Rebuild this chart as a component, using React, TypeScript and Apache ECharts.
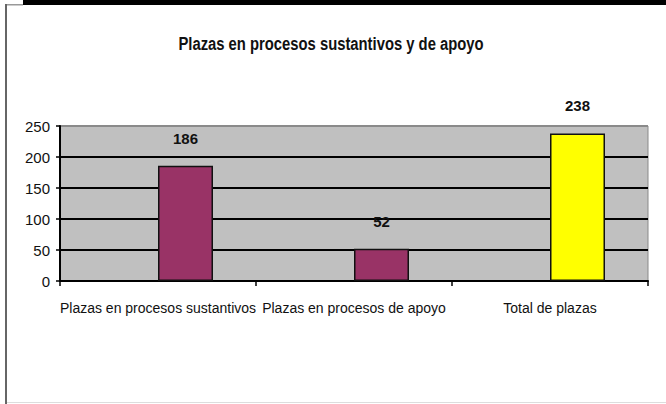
import React, { useEffect, useRef } from "react";
import * as echarts from "echarts";

const categories = [
  "Plazas en procesos sustantivos",
  "Plazas en procesos de apoyo",
  "Total de plazas",
];
const plazas = [186, 52, 238];
const emptySeries = [null, null, null];
const barColors = ["#993366", "#993366", "#FFFF00"];
const yTicks = [0, 50, 100, 150, 200, 250];
const titleText = "Plazas en procesos sustantivos y de apoyo";

const FONT = "'Liberation Sans', Arial, sans-serif";

export default function App() {
  const ref = useRef<HTMLDivElement>(null);
  useEffect(() => {
    const chart = echarts.init(ref.current!, null, { renderer: "svg" });
    chart.setOption({
      animation: false,
      backgroundColor: "#ffffff",
      grid: {
        left: 60,
        right: 18,
        top: 126,
        bottom: 123,
        show: true,
        backgroundColor: "#C0C0C0",
        borderColor: "#8a8a8a",
        borderWidth: 1,
      },
      xAxis: {
        type: "category",
        data: categories,
        axisLine: { lineStyle: { color: "#000", width: 2 } },
        axisTick: { show: true, length: 5, lineStyle: { color: "#000", width: 1.5 } },
        axisLabel: { fontFamily: FONT, fontSize: 14, color: "#111", margin: 20, interval: 0 },
      },
      yAxis: {
        type: "value",
        min: yTicks[0],
        max: yTicks[yTicks.length - 1],
        interval: 50,
        axisLine: { show: true, lineStyle: { color: "#000", width: 2 } },
        axisTick: { show: true, length: 4, lineStyle: { color: "#000", width: 1.5 } },
        axisLabel: { fontFamily: FONT, fontSize: 15, color: "#111", margin: 10 },
        splitLine: {
          show: true,
          lineStyle: { color: ["#000", "#000", "#000", "#000", "#000", "#8a8a8a"], width: 2 },
        },
      },
      series: [
        {
          type: "bar",
          data: emptySeries,
          barWidth: 55,
          barGap: "0%",
        },
        {
          type: "bar",
          barWidth: 55,
          barGap: "0%",
          data: plazas.map((v, i) => ({
            value: v,
            itemStyle: { color: barColors[i], borderColor: "#111", borderWidth: 1.5 },
          })),
          label: {
            show: true,
            position: "top",
            distance: 20,
            fontFamily: FONT,
            fontSize: 15,
            fontWeight: "bold",
            color: "#111",
          },
        },
      ],
      graphic: [
        {
          type: "text",
          x: 331,
          y: 44,
          scaleX: 0.78,
          style: {
            text: titleText,
            fontFamily: FONT,
            fontSize: 19,
            fontWeight: "bold",
            fill: "#111",
            align: "center",
            verticalAlign: "middle",
          },
        },
        { type: "rect", shape: { x: 23, y: 0, width: 643, height: 5 }, style: { fill: "#000" } },
        { type: "rect", shape: { x: 5, y: 4, width: 18, height: 1.5 }, style: { fill: "#999" } },
        { type: "rect", shape: { x: 5, y: 4, width: 2, height: 400 }, style: { fill: "#666" } },
        { type: "rect", shape: { x: 7, y: 402, width: 659, height: 1 }, style: { fill: "#ddd" } },
      ],
    });
    return () => chart.dispose();
  }, []);
  return (
    <div
      ref={ref}
      style={{ position: "fixed", left: 0, top: 0, width: 666, height: 404 }}
    />
  );
}
